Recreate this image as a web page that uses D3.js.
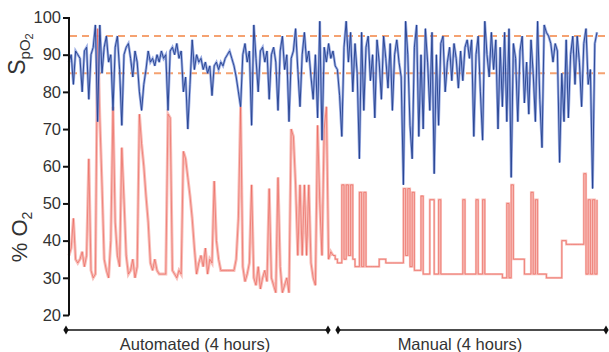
<!DOCTYPE html>
<html>
<head>
<meta charset="utf-8">
<script src="https://cdn.jsdelivr.net/npm/d3@7"></script>
<style>
  body { margin: 0; background: #fff; }
  svg { display: block; font-family: "Liberation Sans", Arial, sans-serif; }
</style>
</head>
<body>
<div id="chart"></div>
<script>
// samples every 2 minutes, 8 hours total (index 0..240)
const sampleStep = 2;
const spo2 = [
  88,90,82,91,90,89,80,91,92,78, 90,92,98,72,98,85,92,95,88,90,
  75,92,95,86,71,90,92,93,89,84, 91,88,80,75,82,86,91,88,89,87,
  90,88,91,89,90,75,91,92,90,93, 89,91,80,84,70,82,94,86,90,88,
  89,86,88,85,87,79,87,88,86,88, 87,89,90,91,89,87,84,80,76,90,
  93,88,91,71,98,89,80,91,92,88, 91,78,90,92,88,75,91,95,86,90,
  72,89,91,97,86,76,90,96,88,91, 84,78,90,73,99,67,92,88,93,89,
  91,87,86,79,68,92,99,88,96,80, 93,85,62,96,75,92,95,83,90,73,
  94,88,78,95,89,81,93,75,90,94, 88,84,55,99,90,71,62,92,98,68,
  90,70,97,88,75,96,58,90,71,93, 95,80,88,92,83,93,89,81,91,83,
  92,94,89,94,68,90,95,80,67,99, 90,84,96,86,94,70,92,76,96,72,
  97,57,93,89,72,91,95,77,88,74, 94,85,72,99,78,65,98,96,95,93,
  88,93,91,61,85,72,94,73,90,95, 82,95,88,76,93,97,82,86,54,93,
  96
];
const o2 = [
  36,38,46,35,34,35,37,33,36,62, 32,30,31,97,73,55,35,32,30,40,
  76,45,36,33,65,51,36,31,32,35, 30,33,74,66,60,52,45,34,32,35,
  32,31,31,31,31,74,73,32,31,30, 32,31,64,62,57,52,46,38,31,34,
  36,33,38,31,35,34,56,40,35,32, 32,32,32,32,32,32,35,46,76,33,
  29,31,34,55,30,28,33,27,30,32, 29,54,30,28,26,57,33,26,28,30,
  26,70,68,55,36,55,36,55,36,55, 34,30,28,71,50,36,70,76,35,37,
  36,35,34,34,55,35,55,36,55,35, 33,33,53,33,53,33,33,33,33,33,
  33,35,35,35,34,34,34,34,34,34, 34,34,54,36,54,33,53,32,32,32,
  52,31,31,31,51,51,31,31,51,31, 31,31,31,31,31,31,31,31,31,51,
  31,31,31,31,31,51,31,31,51,31, 31,31,31,31,31,31,31,30,30,50,
  30,55,35,35,35,35,35,31,31,31, 53,31,51,31,31,31,31,30,30,30,
  30,30,30,30,40,40,39,39,39,39, 39,39,39,39,58,31,51,31,51,31,
  51
];
const yTicks = [20, 30, 40, 50, 60, 70, 80, 90, 100];
const targetRange = [85, 95];
const phases = ["Automated (4 hours)", "Manual (4 hours)"];

const width = 609, height = 352;

const svg = d3.select("#chart").append("svg")
  .attr("width", width)
  .attr("height", height);

const x = d3.scaleLinear().domain([0, 480]).range([69, 597]);
const y = d3.scaleLinear().domain([20, 100]).range([315, 17.5]);

const spo2Pts = spo2.map((v, i) => [i * sampleStep, v]);
const o2Pts = o2.map((v, i) => [i * sampleStep, v]);

// target band (dashed)
svg.selectAll(".target")
  .data(targetRange)
  .enter().append("line")
  .attr("x1", 70).attr("x2", width)
  .attr("y1", d => y(d)).attr("y2", d => y(d))
  .style("stroke", "#f5a271")
  .style("stroke-width", 2)
  .style("stroke-dasharray", "7,5");

const line = d3.line().x(d => x(d[0])).y(d => y(d[1]));
const stepLine = d3.line().x(d => x(d[0])).y(d => y(d[1])).curve(d3.curveStepAfter);

// %O2: zigzag while automated, stepped when manual
const splitIdx = 120;
const o2Parts = [
  {pts: o2Pts.slice(0, splitIdx + 1), gen: line, w: 3},
  {pts: o2Pts.slice(splitIdx), gen: stepLine, w: 2.2}
];
o2Parts.forEach(p => {
  svg.append("path").attr("d", p.gen(p.pts))
    .style("fill", "none").style("stroke", "#f5a39b")
    .style("stroke-width", p.w).style("opacity", 0.7);
  svg.append("path").attr("d", p.gen(p.pts))
    .style("fill", "none").style("stroke", "#e8544a")
    .style("stroke-width", 0.8).style("opacity", 0.7);
});

// SpO2
svg.append("path").attr("d", line(spo2Pts))
  .style("fill", "none").style("stroke", "#8299dc")
  .style("stroke-width", 2.6).style("opacity", 0.8);
svg.append("path").attr("d", line(spo2Pts))
  .style("fill", "none").style("stroke", "#23408f")
  .style("stroke-width", 0.9);

// y axis
const yAxis = d3.axisLeft(y).tickValues(yTicks).tickSize(6).tickSizeOuter(0).tickPadding(2);
const gy = svg.append("g")
  .attr("transform", "translate(69,0)")
  .call(yAxis);
gy.select(".domain").attr("d", "M0," + (y(100) - 0.5) + "V" + (y(20) + 0.5))
  .style("stroke", "#111").style("stroke-width", 2);
gy.selectAll(".tick line").style("stroke", "#111").style("stroke-width", 2);
gy.selectAll(".tick text")
  .style("font-size", "16.5px")
  .style("fill", "#333")
  .style("font-family", "'Liberation Sans', Arial, sans-serif");

// axis titles
const t1 = svg.append("text")
  .attr("transform", "translate(25,54) rotate(-90)")
  .attr("text-anchor", "middle")
  .style("fill", "#333");
t1.append("tspan").style("font-size", "23px").text("S");
t1.append("tspan").style("font-size", "15px").attr("dy", 5).text("pO");
t1.append("tspan").style("font-size", "11px").attr("dy", 3).text("2");

const t2 = svg.append("text")
  .attr("transform", "translate(27,237) rotate(-90)")
  .attr("text-anchor", "middle")
  .style("fill", "#333");
t2.append("tspan").style("font-size", "22px").text("% O");
t2.append("tspan").style("font-size", "14px").attr("dy", 5).text("2");

// phase arrows along the bottom
const arrowY = 330;
const phaseX = [[66, 328], [338, 606]];
const labelX = [195, 460];
phases.forEach((label, k) => {
  const x0 = phaseX[k][0], x1 = phaseX[k][1];
  svg.append("line")
    .attr("x1", x0).attr("x2", x1)
    .attr("y1", arrowY).attr("y2", arrowY)
    .style("stroke", "#111").style("stroke-width", 1.6);
  [x0, x1].forEach(xx => {
    svg.append("path")
      .attr("d", d3.symbol().type(d3.symbolDiamond).size(24)())
      .attr("transform", "translate(" + xx + "," + arrowY + ")")
      .style("fill", "#111");
  });
  svg.append("text")
    .attr("x", labelX[k])
    .attr("y", 350)
    .attr("text-anchor", "middle")
    .style("font-size", "16.5px")
    .style("fill", "#333")
    .text(label);
});
</script>
</body>
</html>
